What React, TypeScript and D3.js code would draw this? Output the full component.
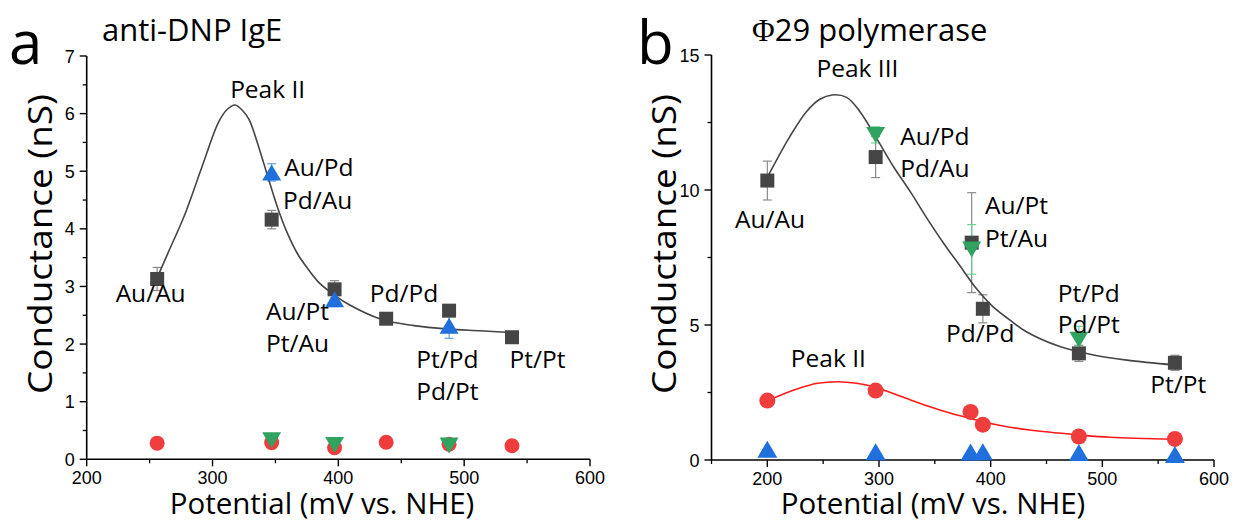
import React from 'react';
import * as d3 from 'd3';

const W = 1233;
const H = 523;

// panel a : anti-DNP IgE   [potential (mV), conductance (nS), error]
const aSquares = [[256, 3.13, 0.2], [347, 4.16, 0.16], [397, 2.95, 0.15], [438, 2.44, 0.05], [488, 2.58, 0.08], [538, 2.12, 0.05]];
const aBlueUp = [[347, 4.98, 0.15], [397, 2.78, 0.13], [488, 2.32, 0.22]];
const aGreenDown = [[347, 0.33, 0.03], [397, 0.25, 0.03], [488, 0.24, 0.03]];
const aRed = [[256, 0.28], [347, 0.29], [397, 0.2], [438, 0.295], [488, 0.26], [538, 0.236]];
const aFit = [[256, 3.15], [265, 3.6], [278, 4.25], [292, 5.1], [305, 5.86], [312, 6.08], [318, 6.15], [324, 6.05], [329, 5.9], [337, 5.4], [344, 4.9], [352, 4.35], [360, 3.9], [368, 3.55], [376, 3.3], [384, 3.08], [395, 2.88], [408, 2.69], [434, 2.43], [460, 2.32], [487, 2.26], [513, 2.23], [537, 2.2]];
const aXTicks = [200, 300, 400, 500, 600];
const aYTicks = [0, 1, 2, 3, 4, 5, 6, 7];
const aLabels: [string, number, number][] = [
  ['Peak II', 314, 6.27], ['Au/Pd', 357, 4.91], ['Pd/Au', 356, 4.34], ['Au/Au', 223, 2.73],
  ['Au/Pt', 342.5, 2.42], ['Pt/Au', 342.5, 1.87], ['Pd/Pd', 425, 2.73], ['Pt/Pd', 462, 1.58],
  ['Pd/Pt', 462, 1.03], ['Pt/Pt', 536, 1.58],
];

// panel b : phi29 polymerase
const bSquares = [[200, 10.35, 0.72], [297, 11.22, 0.76], [383, 8.05, 1.85], [393, 5.6, 0.52], [479, 3.95, 0.3], [565, 3.6, 0.28]];
const bGreenDown = [[297, 12.04, 0.3], [383, 7.8, 0.92], [479, 4.45, 0.5]];
const bRed = [[200, 2.2], [297, 2.57], [382, 1.78], [393, 1.31], [479, 0.87], [565, 0.78]];
const bBlueUp = [[200, 0.4], [297, 0.31], [382, 0.3], [393, 0.31], [479, 0.28], [565, 0.2]];
const bFitGray = [[201, 10.55], [220, 11.97], [235, 12.9], [247, 13.36], [258, 13.52], [271, 13.43], [283, 12.9], [298, 11.9], [313, 10.86], [328, 9.94], [343, 8.95], [358, 8.02], [372, 7.22], [387, 6.36], [402, 5.68], [417, 5.19], [432, 4.75], [462, 4.2], [492, 3.89], [522, 3.7], [565, 3.52]];
const bFitRed = [[200, 2.2], [226, 2.62], [245, 2.84], [263, 2.9], [280, 2.84], [297, 2.69], [320, 2.35], [345, 1.98], [365, 1.72], [382, 1.54], [393, 1.42], [410, 1.27], [435, 1.11], [479, 0.93], [507, 0.84], [565, 0.77]];
const bXTicks = [200, 300, 400, 500, 600];
const bYTicks = [0, 5, 10, 15];
const bLabels: [string, number, number][] = [
  ['Peak III', 244, 14.2], ['Au/Pd', 319, 11.67], ['Pd/Au', 319, 10.49], ['Au/Pt', 395, 9.11],
  ['Pt/Au', 395, 7.9], ['Pd/Pd', 360, 4.38], ['Pt/Pd', 460, 5.86], ['Pd/Pt', 460, 4.69],
  ['Au/Au', 171, 8.58], ['Pt/Pt', 543, 2.47], ['Peak II', 221, 3.46],
];

const GRAY = '#454545';
const BLUE = '#1f6fdc';
const GREEN = '#2fa35f';
const RED = '#ef3d3d';
const LABEL_FONT = '"Open Sans", sans-serif';
const TICK_FONT = '"Liberation Sans", Arial, sans-serif';

const sq = (x: number, y: number, s: number) => `M${x - s / 2},${y - s / 2}h${s}v${s}h${-s}Z`;
const up = (x: number, y: number, s: number, h: number) => `M${x},${y - h / 2}L${x + s / 2},${y + h / 2}L${x - s / 2},${y + h / 2}Z`;
const down = (x: number, y: number, s: number, h: number) => `M${x - s / 2},${y - h / 2}L${x + s / 2},${y - h / 2}L${x},${y + h / 2}Z`;

function ErrBars({ data, x, y, color }: any) {
  return (
    <g stroke={color} strokeWidth={1.2} fill="none">
      {data.map((d: number[], i: number) => {
        const cx = x(d[0]);
        const y1 = y(d[1] - d[2]);
        const y2 = y(d[1] + d[2]);
        return (
          <g key={i}>
            <line x1={cx} x2={cx} y1={y1} y2={y2} />
            <line x1={cx - 4.5} x2={cx + 4.5} y1={y1} y2={y1} />
            <line x1={cx - 4.5} x2={cx + 4.5} y1={y2} y2={y2} />
          </g>
        );
      })}
    </g>
  );
}

function Axes({ x, y, xTicks, xMinor, yTicks, yMinor, titleX, titleY, yTitleX }: any) {
  const [x0, x1] = x.range();
  const [y0, y1] = y.range();
  return (
    <g>
      <line x1={x0} x2={x1} y1={y0} y2={y0} stroke="#000" strokeWidth={1.6} />
      <line x1={x0} x2={x0} y1={y0} y2={y1} stroke="#000" strokeWidth={1.6} />
      {xMinor.map((t: number) => (
        <line key={'xm' + t} x1={x(t)} x2={x(t)} y1={y0} y2={y0 + 4} stroke="#000" strokeWidth={1.3} />
      ))}
      {xTicks.map((t: number) => (
        <g key={'x' + t}>
          <line x1={x(t)} x2={x(t)} y1={y0} y2={y0 + 7} stroke="#000" strokeWidth={1.4} />
          <text x={x(t)} y={y0 + 25} textAnchor="middle" fontFamily={TICK_FONT} fontSize={18}>{t}</text>
        </g>
      ))}
      {yMinor.map((t: number) => (
        <line key={'ym' + t} x1={x0 - 4} x2={x0} y1={y(t)} y2={y(t)} stroke="#000" strokeWidth={1.3} />
      ))}
      {yTicks.map((t: number) => (
        <g key={'y' + t}>
          <line x1={x0 - 7} x2={x0} y1={y(t)} y2={y(t)} stroke="#000" strokeWidth={1.4} />
          <text x={x0 - 12} y={y(t) + 6.5} textAnchor="end" fontFamily={TICK_FONT} fontSize={18}>{t}</text>
        </g>
      ))}
      <text x={titleX} y={514} textAnchor="middle" fontFamily={LABEL_FONT} fontSize={29.5}>Potential (mV vs. NHE)</text>
      <text transform={`translate(${yTitleX},${titleY}) rotate(-90)`} textAnchor="middle" fontFamily={LABEL_FONT}
        fontSize={32} textLength={300} lengthAdjust="spacingAndGlyphs">Conductance (nS)</text>
    </g>
  );
}

function Labels({ labels, x, y }: any) {
  return (
    <g fontFamily={LABEL_FONT} fontSize={24.5} fill="#000">
      {labels.map((l: [string, number, number], i: number) => (
        <text key={i} x={x(l[1])} y={y(l[2])}>{l[0]}</text>
      ))}
    </g>
  );
}

export default function App() {
  // panel a scales
  const ax = d3.scaleLinear().domain([200, 600]).range([86.7, 590]);
  const ay = d3.scaleLinear().domain([0, 7]).range([459.3, 56]);
  // panel b scales
  const bx = d3.scaleLinear().domain([150, 600]).range([711.5, 1214]);
  const by = d3.scaleLinear().domain([0, 15]).range([460, 55]);

  const lineA = d3.line<number[]>().x(d => ax(d[0])).y(d => ay(d[1])).curve(d3.curveCatmullRom.alpha(0.5));
  const lineB = d3.line<number[]>().x(d => bx(d[0])).y(d => by(d[1])).curve(d3.curveCatmullRom.alpha(0.5));

  return (
    <svg width={W} height={H} style={{ position: 'absolute', left: 0, top: 0, background: '#fff' }}>
      {/* ---------- panel a ---------- */}
      <text x={9} y={64} fontFamily={LABEL_FONT} fontSize={60}>a</text>
      <text x={102} y={41} fontFamily={LABEL_FONT} fontSize={31}>anti-DNP IgE</text>
      <Axes x={ax} y={ay} xTicks={aXTicks} xMinor={d3.range(250, 600, 100)} yTicks={aYTicks} yMinor={d3.range(0.5, 7, 1)}
        titleX={322} titleY={244} yTitleX={52} />
      <ErrBars data={aSquares} x={ax} y={ay} color="#8a8a8a" />
      <ErrBars data={aBlueUp} x={ax} y={ay} color="#5f9fe8" />
      <path d={lineA(aFit) || ''} fill="none" stroke={GRAY} strokeWidth={1.6} />
      {aSquares.map((d, i) => <path key={'as' + i} d={sq(ax(d[0]), ay(d[1]), 14)} fill={GRAY} />)}
      {aRed.map((d, i) => <circle key={'ar' + i} cx={ax(d[0])} cy={ay(d[1])} r={7.5} fill={RED} />)}
      {aBlueUp.map((d, i) => <path key={'ab' + i} d={up(ax(d[0]), ay(d[1]), 19, 16)} fill={BLUE} />)}
      {aGreenDown.map((d, i) => <path key={'ag' + i} d={down(ax(d[0]), ay(d[1]), 19, 16)} fill={GREEN} />)}
      <Labels labels={aLabels} x={ax} y={ay} />

      {/* ---------- panel b ---------- */}
      <text x={637} y={64} fontFamily={LABEL_FONT} fontSize={60}>b</text>
      <text x={752} y={41} fontFamily={LABEL_FONT} fontSize={31}>
        <tspan fontFamily='"Liberation Serif", serif'>Φ</tspan>29 polymerase
      </text>
      <Axes x={bx} y={by} xTicks={bXTicks} xMinor={d3.range(150, 600, 50).filter(t => t % 100 !== 0)} yTicks={bYTicks} yMinor={d3.range(2.5, 15, 5)}
        titleX={933} titleY={244} yTitleX={676} />
      <ErrBars data={bSquares} x={bx} y={by} color="#8a8a8a" />
      <ErrBars data={bGreenDown} x={bx} y={by} color="#6fcf94" />
      <path d={lineB(bFitGray) || ''} fill="none" stroke={GRAY} strokeWidth={1.6} />
      <path d={lineB(bFitRed) || ''} fill="none" stroke="#ff1a1a" strokeWidth={1.6} />
      {bSquares.map((d, i) => <path key={'bs' + i} d={sq(bx(d[0]), by(d[1]), 14)} fill={GRAY} />)}
      {bGreenDown.map((d, i) => <path key={'bg' + i} d={down(bx(d[0]), by(d[1]), 19, 16)} fill={GREEN} />)}
      {bRed.map((d, i) => <circle key={'br' + i} cx={bx(d[0])} cy={by(d[1])} r={8} fill={RED} />)}
      {bBlueUp.map((d, i) => <path key={'bb' + i} d={up(bx(d[0]), by(d[1]), 20, 17)} fill={BLUE} />)}
      <Labels labels={bLabels} x={bx} y={by} />
    </svg>
  );
}
